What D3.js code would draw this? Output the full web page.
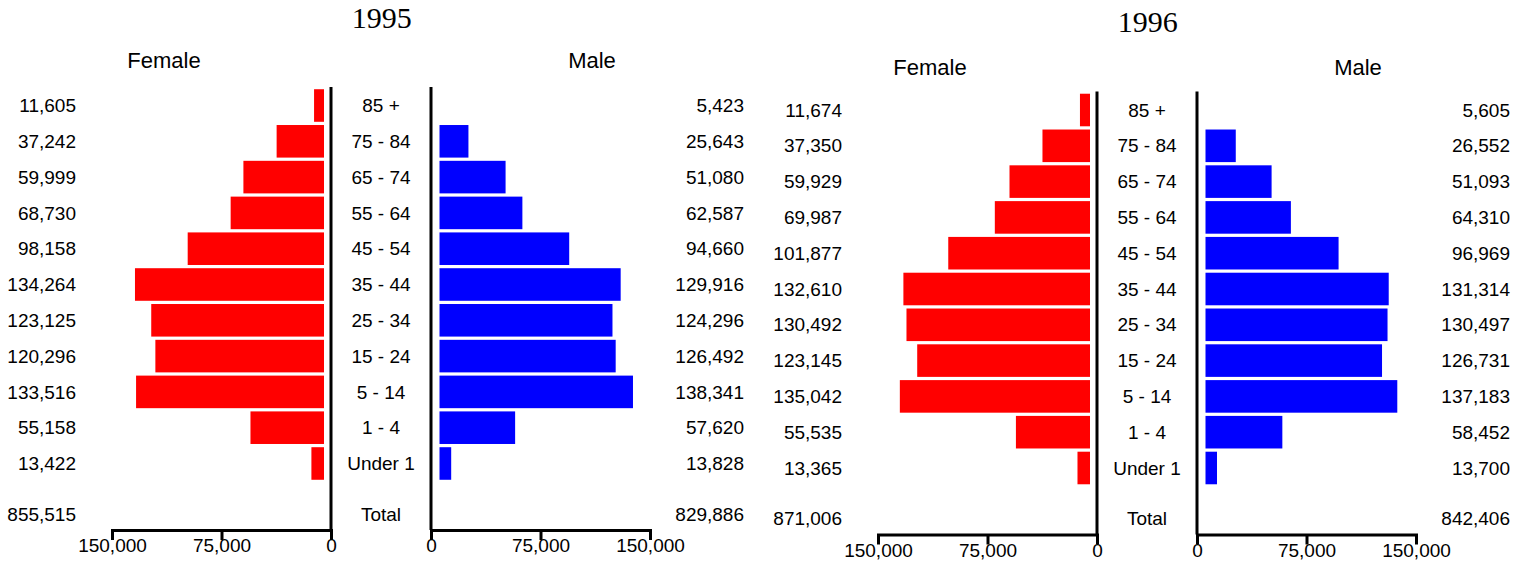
<!DOCTYPE html>
<html>
<head>
<meta charset="utf-8">
<script src="https://cdn.jsdelivr.net/npm/d3@7/dist/d3.min.js"></script>
<style>
  html, body { margin: 0; padding: 0; background: #fff; }
  svg { display: block; }
  text { font-family: "Liberation Sans", Arial, sans-serif; fill: #000; }
</style>
</head>
<body>
<svg id="chart" width="1528" height="566"></svg>
<script>
// ---- data ----
const ageGroups = ["85 +", "75 - 84", "65 - 74", "55 - 64", "45 - 54", "35 - 44",
                   "25 - 34", "15 - 24", "5 - 14", "1 - 4", "Under 1"];
const female1995 = [11605, 37242, 59999, 68730, 98158, 134264, 123125, 120296, 133516, 55158, 13422];
const male1995   = [5423, 25643, 51080, 62587, 94660, 129916, 124296, 126492, 138341, 57620, 13828];
const female1996 = [11674, 37350, 59929, 69987, 101877, 132610, 130492, 123145, 135042, 55535, 13365];
const male1996   = [5605, 26552, 51093, 64310, 96969, 131314, 130497, 126731, 137183, 58452, 13700];
const totalFemale = [855515, 871006];
const totalMale   = [829886, 842406];
const years = ["1995", "1996"];
const tickValues = [0, 75000, 150000];
const totalLabel = "Total";
const femaleLabel = "Female";
const maleLabel = "Male";

// ---- layout ----
const svg = d3.select("#chart");
const fmt = d3.format(",");
const maxVal = 150000;

const panels = [
  { year: years[0], female: female1995, male: male1995, tf: totalFemale[0], tm: totalMale[0], dx: 0, dy: 0, hdy: 0, tdy: 0 },
  { year: years[1], female: female1996, male: male1996, tf: totalFemale[1], tm: totalMale[1], dx: 766, dy: 4.5, hdy: 6.7, tdy: 4 }
];

panels.forEach(p => {
  const g = svg.append("g").attr("transform", `translate(${p.dx},${p.dy})`);
  const fx = d3.scaleLinear().domain([0, maxVal]).range([331, 112]);
  const mx = d3.scaleLinear().domain([0, maxVal]).range([431, 650]);
  const y = d3.scaleBand().domain(ageGroups).range([86, 483]).padding(0.09);
  const axisY = 530;
  const axisTop = 87;

  // title
  svg.append("text")
    .attr("x", 381.7 + p.dx).attr("y", 28.3 + p.tdy)
    .attr("text-anchor", "middle")
    .style("font-family", "'Liberation Serif', 'Times New Roman', serif")
    .style("font-size", "30px")
    .text(p.year);

  // headings
  svg.append("text").attr("x", 164 + p.dx).attr("y", 68.3 + p.hdy)
    .attr("text-anchor", "middle").style("font-size", "22px").text(femaleLabel);
  svg.append("text").attr("x", 592 + p.dx).attr("y", 68.3 + p.hdy)
    .attr("text-anchor", "middle").style("font-size", "22px").text(maleLabel);

  // bars
  const fData = ageGroups.map((a, i) => ({ age: a, v: p.female[i] }));
  const mData = ageGroups.map((a, i) => ({ age: a, v: p.male[i] }));
  const fNear = fx(0) - 7;
  const mNear = mx(0) + 8.5;

  g.selectAll("rect.f").data(fData).join("rect").attr("class", "f")
    .attr("x", d => Math.min(fx(d.v), fNear))
    .attr("width", d => Math.max(0, fNear - fx(d.v)))
    .attr("y", d => y(d.age)).attr("height", y.bandwidth())
    .attr("fill", "#ff0000");

  g.selectAll("rect.m").data(mData).join("rect").attr("class", "m")
    .attr("x", mNear)
    .attr("width", d => Math.max(0, mx(d.v) - mNear))
    .attr("y", d => y(d.age)).attr("height", y.bandwidth())
    .attr("fill", "#0000ff");

  // labels
  const cy = d => y(d.age) + y.bandwidth() / 2;
  g.selectAll("text.fv").data(fData).join("text").attr("class", "fv")
    .attr("x", 76).attr("y", cy).attr("dy", "0.35em")
    .attr("text-anchor", "end").style("font-size", "19px")
    .text(d => fmt(d.v));
  g.selectAll("text.mv").data(mData).join("text").attr("class", "mv")
    .attr("x", 744).attr("y", cy).attr("dy", "0.35em")
    .attr("text-anchor", "end").style("font-size", "19px")
    .text(d => fmt(d.v));
  g.selectAll("text.age").data(fData).join("text").attr("class", "age")
    .attr("x", 381).attr("y", cy).attr("dy", "0.35em")
    .attr("text-anchor", "middle").style("font-size", "19px")
    .text(d => d.age);

  // totals
  const totY = axisY - 16;
  g.append("text").attr("x", 76).attr("y", totY).attr("dy", "0.35em")
    .attr("text-anchor", "end").style("font-size", "19px").text(fmt(p.tf));
  g.append("text").attr("x", 744).attr("y", totY).attr("dy", "0.35em")
    .attr("text-anchor", "end").style("font-size", "19px").text(fmt(p.tm));
  g.append("text").attr("x", 381).attr("y", totY).attr("dy", "0.35em")
    .attr("text-anchor", "middle").style("font-size", "19px").text(totalLabel);

  // vertical axis lines
  [fx(0), mx(0)].forEach(xv => {
    g.append("line").attr("x1", xv).attr("x2", xv)
      .attr("y1", axisTop).attr("y2", axisY)
      .attr("stroke", "#000").attr("stroke-width", 3);
  });

  // horizontal axes
  [fx, mx].forEach(sc => {
    const ax = g.append("g").attr("transform", `translate(0,${axisY})`)
      .call(d3.axisBottom(sc).tickValues(tickValues).tickFormat(fmt)
        .tickSize(10).tickSizeOuter(0).tickPadding(-1));
    ax.select(".domain").attr("stroke", "#000").attr("stroke-width", 3)
      .attr("stroke-linecap", "square");
    ax.selectAll(".tick line").attr("stroke", "#000").attr("stroke-width", 3);
    ax.selectAll(".tick text")
      .style("font-family", "'Liberation Sans', Arial, sans-serif")
      .style("font-size", "19px").attr("fill", "#000");
  });
});
</script>
</body>
</html>
